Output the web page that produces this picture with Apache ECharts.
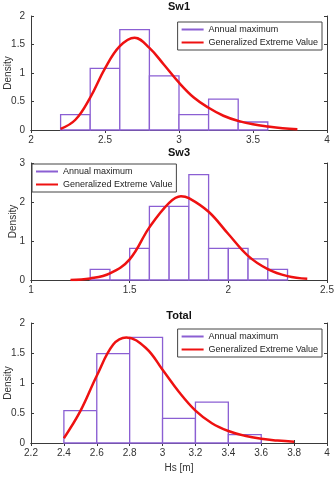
<!DOCTYPE html>
<html>
<head>
<meta charset="utf-8">
<script src="https://cdn.jsdelivr.net/npm/echarts@6/dist/echarts.min.js"></script>
<style>
  html, body { margin: 0; padding: 0; background: #fff; }
  #chart { width: 336px; height: 480px; }
</style>
</head>
<body>
<div id="chart"></div>
<script>
// histogram bins (density) and fitted GEV curves
const sw1Edges = [2.2, 2.4, 2.6, 2.8, 3.0, 3.2, 3.4, 3.6]
const sw1Density = [0.27, 1.08, 1.76, 0.95, 0.27, 0.54, 0.14]
const sw1CurveX = [2.2, 2.3, 2.4, 2.5, 2.6, 2.7, 2.8, 2.9, 3.0, 3.1, 3.2, 3.3, 3.4, 3.5, 3.6, 3.7, 3.8]
const sw1CurveY = [0.02, 0.18, 0.57, 1.08, 1.47, 1.62, 1.44, 1.14, 0.83, 0.57, 0.39, 0.25, 0.16, 0.1, 0.06, 0.03, 0.015]

const sw3Edges = [1.3, 1.4, 1.5, 1.6, 1.7, 1.8, 1.9, 2.0, 2.1, 2.2, 2.3]
const sw3Density = [0.27, 0, 0.81, 1.89, 1.89, 2.70, 0.81, 0.81, 0.54, 0.27]
const sw3CurveX = [1.2, 1.3, 1.4, 1.5, 1.6, 1.7, 1.76, 1.8, 1.9, 2.0, 2.1, 2.2, 2.3, 2.4]
const sw3CurveY = [0.0, 0.04, 0.17, 0.53, 1.35, 1.98, 2.15, 2.1, 1.75, 1.18, 0.62, 0.28, 0.1, 0.03]

const totEdges = [2.4, 2.6, 2.8, 3.0, 3.2, 3.4, 3.6]
const totDensity = [0.54, 1.49, 1.76, 0.41, 0.68, 0.14]
const totCurveX = [2.4, 2.5, 2.6, 2.7, 2.78, 2.9, 3.0, 3.1, 3.2, 3.3, 3.4, 3.5, 3.6, 3.7, 3.8]
const totCurveY = [0.08, 0.53, 1.12, 1.64, 1.76, 1.58, 1.22, 0.85, 0.54, 0.33, 0.2, 0.12, 0.07, 0.04, 0.02]

const panelTitles = ['Sw1', 'Sw3', 'Total']
const xRanges = [[2, 4, 0.5], [1, 2.5, 0.5], [2.2, 4, 0.2]]
const yRanges = [[0, 2, 0.5], [0, 3, 1], [0, 2, 0.5]]

const purple = '#8b5fd3'
const red = '#ee1111'
const axisColor = '#3a3a3a'
const font = 'Liberation Sans, Arial, sans-serif'

const grids = [
    { left: 31, right: 9, top: 16, height: 114, outerBoundsMode: 'none', containLabel: false },
    { left: 31, right: 9, top: 163, height: 117, outerBoundsMode: 'none', containLabel: false },
    { left: 31, right: 9, top: 323, height: 120, outerBoundsMode: 'none', containLabel: false },
]
const titleTops = [1, 147, 310]

const toBins = (edges, dens) => dens.map((d, i) => [edges[i], edges[i + 1], d])
const toLine = (xs, ys) => xs.map((x, i) => [x, ys[i]])

const bins = [toBins(sw1Edges, sw1Density), toBins(sw3Edges, sw3Density), toBins(totEdges, totDensity)]
const curves = [toLine(sw1CurveX, sw1CurveY), toLine(sw3CurveX, sw3CurveY), toLine(totCurveX, totCurveY)]

const renderBin = (params, api) => {
    const p0 = api.coord([api.value(0), api.value(2)])
    const p1 = api.coord([api.value(1), 0])
    return {
        type: 'rect',
        shape: { x: p0[0], y: p0[1], width: p1[0] - p0[0], height: p1[1] - p0[1] },
        style: { fill: '#fff', stroke: purple, lineWidth: 1.3 }
    }
}

const xAxes = []
const yAxes = []
const series = []
const titles = []
const legends = []

grids.forEach((g, i) => {
    const [xmin, xmax, xint] = xRanges[i]
    const [ymin, ymax, yint] = yRanges[i]
    // main axes
    xAxes.push({
        type: 'value', gridIndex: i, min: xmin, max: xmax, interval: xint,
        axisLine: { lineStyle: { color: axisColor, width: 1 } },
        axisTick: { inside: true, length: 3, lineStyle: { color: axisColor } },
        axisLabel: { color: '#333', fontSize: 10, fontFamily: font, margin: 5 },
        splitLine: { show: false },
        name: i === 2 ? 'Hs [m]' : '', nameLocation: 'middle', nameGap: 20, nameMoveOverlap: false,
        nameTextStyle: { color: '#333', fontSize: 10, fontFamily: font }
    })
    // box top
    xAxes.push({
        type: 'value', gridIndex: i, min: xmin, max: xmax, interval: xint, position: 'top',
        axisLine: { lineStyle: { color: axisColor, width: 1 } },
        axisTick: { inside: true, length: 3, lineStyle: { color: axisColor } },
        axisLabel: { show: false }, splitLine: { show: false }
    })
    yAxes.push({
        type: 'value', gridIndex: i, min: ymin, max: ymax, interval: yint,
        axisLine: { show: true, lineStyle: { color: axisColor, width: 1 } },
        axisTick: { show: true, inside: true, length: 3, lineStyle: { color: axisColor } },
        axisLabel: { color: '#333', fontSize: 10, fontFamily: font, margin: 6 },
        splitLine: { show: false },
        name: 'Density', nameLocation: 'middle', nameGap: i === 1 ? 13 : 18, nameRotate: 90,
        nameMoveOverlap: false,
        nameTextStyle: { color: '#333', fontSize: 10, fontFamily: font }
    })
    yAxes.push({
        type: 'value', gridIndex: i, min: ymin, max: ymax, interval: yint, position: 'right',
        axisLine: { show: true, lineStyle: { color: axisColor, width: 1 } },
        axisTick: { show: true, inside: true, length: 3, lineStyle: { color: axisColor } },
        axisLabel: { show: false }, splitLine: { show: false }
    })
    series.push({
        name: 'Annual maximum', type: 'custom', xAxisIndex: i * 2, yAxisIndex: i * 2,
        renderItem: renderBin, data: bins[i], itemStyle: { color: purple },
        encode: { x: [0, 1], y: 2 }, z: 2
    })
    series.push({
        name: 'Generalized Extreme Value', type: 'line', xAxisIndex: i * 2, yAxisIndex: i * 2,
        data: curves[i], smooth: 0.4, showSymbol: false, symbol: 'none',
        lineStyle: { color: red, width: 2.5 }, itemStyle: { color: red }, z: 3
    })
    titles.push({
        text: panelTitles[i], left: 179, textAlign: 'center', top: titleTops[i], padding: 0,
        textStyle: { fontSize: 11, fontWeight: 'bold', color: '#111', fontFamily: font }
    })
    const legendPos = i === 1 ? { left: 32, top: g.top + 1 } : { right: 14, top: g.top + 6 }
    legends.push(Object.assign({
        orient: 'vertical', itemWidth: 22, itemHeight: 2, itemGap: 4,
        padding: [3, 4, 3, 4], borderColor: '#444', borderWidth: 1, backgroundColor: '#fff',
        textStyle: { fontSize: 9, color: '#222', fontFamily: font },
        selectedMode: false,
        data: [
            { name: 'Annual maximum', icon: 'rect', itemStyle: { color: purple } },
            { name: 'Generalized Extreme Value', icon: 'rect', itemStyle: { color: red } }
        ]
    }, legendPos))
})

const myChart = echarts.init(document.querySelector('#chart'))
myChart.setOption({
    animation: false,
    backgroundColor: '#fff',
    title: titles,
    legend: legends,
    grid: grids,
    xAxis: xAxes,
    yAxis: yAxes,
    series: series
})
</script>
</body>
</html>
